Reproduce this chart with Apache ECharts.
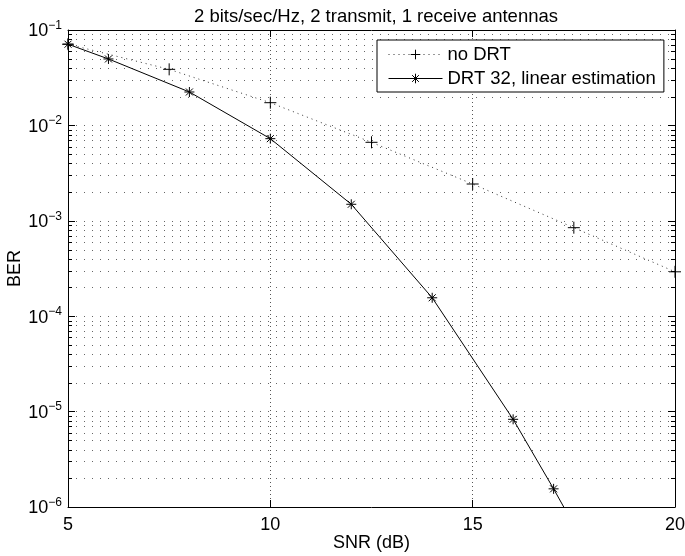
<!DOCTYPE html>
<html><head><meta charset="utf-8">
<script src="https://cdn.jsdelivr.net/npm/echarts@6/dist/echarts.min.js"></script>
<style>html,body{margin:0;padding:0;background:#fff}#c{width:685px;height:556px}</style>
</head><body><div id="c"></div>
<script>
// ---- data ----
const titleText = '2 bits/sec/Hz, 2 transmit, 1 receive antennas';
const seriesNames = ['no DRT', 'DRT 32, linear estimation'];
const snrNoDRT = [5, 7.5, 10, 12.5, 15, 17.5, 20];
const berNoDRT = [0.071, 0.0387, 0.0173, 0.00665, 0.00243, 0.000847, 0.000292];
const snrDRT = [5, 6, 8, 10, 12, 14, 16, 17, 18];
const berDRT = [0.071, 0.0497, 0.0224, 0.00726, 0.00149, 0.000156, 0.0000083, 0.00000155, 0.00000027];
const xTicks = [5, 10, 15, 20];
const yDecadeExps = [-6, -5, -4, -3, -2, -1];
const yMinorMantissas = [2, 3, 4, 5, 6, 7, 8, 9];

const FONT = '"Liberation Sans", Arial, Helvetica, sans-serif';
const FS = 18;
const yMinorValues = [];
yDecadeExps.slice(0, -1).forEach(e => yMinorMantissas.forEach(m => yMinorValues.push(m * Math.pow(10, e))));

const chart = echarts.init(document.getElementById('c'));
const plus = 'path://M6,0L6,12M0,6L12,6';
const star = 'path://M5,0L5,10M0,5L10,5M1.5,1.5L8.5,8.5M8.5,1.5L1.5,8.5';

chart.setOption({
  animation: false,
  backgroundColor: '#fff',
  textStyle: { fontFamily: FONT },
  title: {
    text: titleText, left: 371, top: 2, textAlign: 'center',
    textStyle: { fontFamily: FONT, fontSize: 18.5, fontWeight: 'normal', color: '#000' }
  },
  grid: { left: 68, top: 30, right: 10, bottom: 49, containLabel: false, outerBoundsMode: 'none' },
  legend: {
    orient: 'vertical', left: 377, top: 40,
    padding: [5, 8, 4, 11], itemGap: 5, itemWidth: 54, itemHeight: 12, itemTextGap: 10,
    borderColor: '#000', borderWidth: 1, backgroundColor: '#fff',
    lineStyle: { width: 1 },
    itemStyle: { borderWidth: 1 },
    textStyle: { fontFamily: FONT, fontSize: 18.5, color: '#000' },
    data: seriesNames
  },
  xAxis: [{
    type: 'value', min: 5, max: 20, interval: 5,
    axisLine: { lineStyle: { color: '#000', width: 1 } },
    axisTick: { inside: true, length: 7, lineStyle: { color: '#000' } },
    axisLabel: { fontFamily: FONT, fontSize: FS, color: '#000', margin: 9,
      customValues: xTicks },
    splitLine: { show: true, lineStyle: { color: '#555', type: [1, 3], width: 1 } },
    name: 'SNR (dB)', nameLocation: 'middle', nameGap: 27, nameMoveOverlap: false,
    nameTextStyle: { fontFamily: FONT, fontSize: FS, color: '#000' }
  }, {
    type: 'value', min: 5, max: 20, interval: 5, position: 'top',
    axisLine: { show: true, lineStyle: { color: '#000', width: 1 } },
    axisTick: { show: true, inside: true, length: 7, lineStyle: { color: '#000' } },
    axisLabel: { show: false }, splitLine: { show: false }
  }],
  yAxis: [{
    type: 'log', logBase: 10, min: 1e-6, max: 1e-1,
    axisLine: { show: true, lineStyle: { color: '#000', width: 1 } },
    axisTick: { show: true, inside: true, length: 7, lineStyle: { color: '#000' } },
    axisLabel: {
      margin: 6,
      formatter: v => '{b|10}{s|\u2212' + Math.abs(Math.round(Math.log10(v))) + '}',
      rich: {
        b: { fontFamily: FONT, fontSize: FS, color: '#000', verticalAlign: 'bottom' },
        s: { fontFamily: FONT, fontSize: 12, color: '#000', verticalAlign: 'top', padding: [0, 0, 9, 0] }
      }
    },
    splitLine: { show: true, lineStyle: { color: '#666', type: [1, 7], width: 1 } },
    name: 'BER', nameLocation: 'middle', nameGap: 44, nameMoveOverlap: false,
    nameTextStyle: { fontFamily: FONT, fontSize: FS, color: '#000' }
  }, {
    type: 'log', logBase: 10, min: 1e-6, max: 1e-1, position: 'right',
    axisLine: { show: true, lineStyle: { color: '#000', width: 1 } },
    axisTick: { show: true, inside: true, length: 7, lineStyle: { color: '#000' } },
    axisLabel: { show: false }, splitLine: { show: false }
  }],
  series: [{
    type: 'custom', silent: true, z: 1,
    xAxisIndex: 0, yAxisIndex: 0,
    data: yMinorValues.map(v => [5, v]),
    renderItem: (params, api) => {
      const cs = params.coordSys;
      const y = Math.round(api.coord([5, api.value(1)])[1]) + 0.5;
      return { type: 'group', children: [
        { type: 'line', shape: { x1: cs.x, y1: y, x2: cs.x + cs.width, y2: y },
          style: { stroke: '#666', lineWidth: 1, lineDash: [1, 7] } },
        { type: 'line', shape: { x1: cs.x, y1: y, x2: cs.x + 4, y2: y },
          style: { stroke: '#000', lineWidth: 1 } },
        { type: 'line', shape: { x1: cs.x + cs.width - 4, y1: y, x2: cs.x + cs.width, y2: y },
          style: { stroke: '#000', lineWidth: 1 } }
      ]};
    }
  }, {
    name: seriesNames[0], type: 'line', z: 3,
    data: snrNoDRT.map((x, i) => [x, berNoDRT[i]]),
    symbol: plus, symbolSize: 12,
    lineStyle: { color: '#333', width: 1, type: [1, 4] },
    itemStyle: { color: '#000', borderColor: '#000', borderWidth: 1 },
    clip: true
  }, {
    name: seriesNames[1], type: 'line', z: 4,
    data: snrDRT.map((x, i) => [x, berDRT[i]]),
    symbol: star, symbolSize: 10,
    lineStyle: { color: '#000', width: 1, type: 'solid' },
    itemStyle: { color: '#000', borderColor: '#000', borderWidth: 1 },
    clip: true
  }]
});
</script></body></html>
